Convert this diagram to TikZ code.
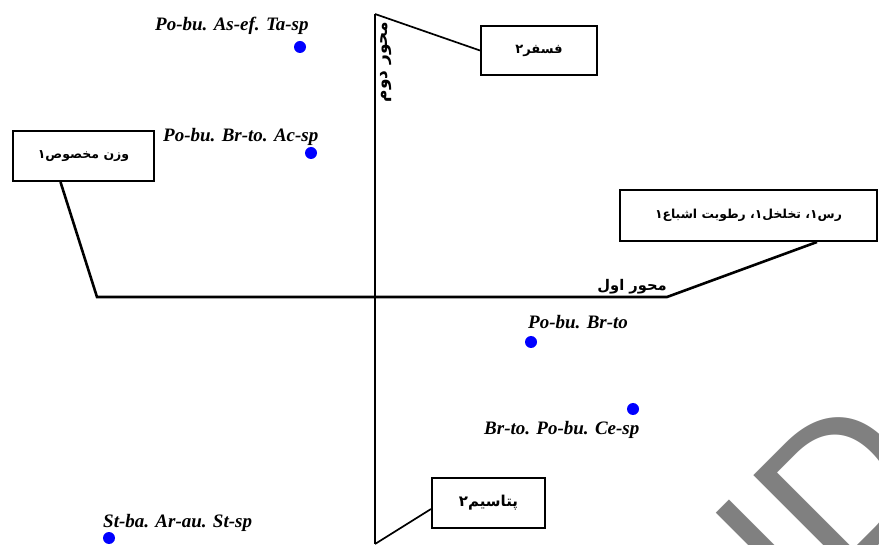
\documentclass[tikz,border=0pt]{standalone}
\usepackage{fontspec}
\setmainfont{Liberation Serif}
\newfontfamily\fa[Script=Arabic]{DejaVu Sans}
\newfontfamily\wm{Liberation Sans}
\TeXXeTstate=1
\usetikzlibrary{calc}
\definecolor{dotblue}{RGB}{0,0,255}
\definecolor{wmgray}{RGB}{128,128,128}
\newcommand{\fasize}[1]{\fa\bfseries\fontsize{#1}{#1}\selectfont}
\begin{document}
\begin{tikzpicture}[x=1pt,y=-1pt,
  varbox/.style={draw=black, line width=2pt, fill=white, inner sep=0pt, align=center},
  axis/.style={line width=2.6pt, black},
  conn/.style={line width=1.7pt, black},
  sp/.style={circle, fill=dotblue, inner sep=0pt, minimum size=12pt},
  splabel/.style={inner sep=0pt, anchor=base west, font=\bfseries\itshape\fontsize{19}{21}\selectfont},
  axlabel/.style={inner sep=0pt}]
\useasboundingbox (0,0) rectangle (879,545);
\clip (0,0) rectangle (879,545);
\fill[white] (0,0) rectangle (879,545);

% watermark
\node[text=wmgray, font=\wm\fontsize{200}{200}\selectfont, rotate=45, anchor=base west, inner sep=0pt] (wmark) at (706,718) {SID};

% axes
\coordinate (vtop) at (375,14);
\coordinate (vbot) at (375,544);
\coordinate (hL) at (97,297);
\coordinate (hR) at (667,297);

% boxes
\node[varbox, minimum width=116pt, minimum height=49pt, font=\fasize{13}] (fosfor) at (539,50.5) {\beginR فسفر۲\endR};
\node[varbox, minimum width=141pt, minimum height=50pt, font=\fasize{12.5}] (vazn) at (83.5,156) {\beginR وزن مخصوص۱\endR};
\node[varbox, minimum width=257pt, minimum height=51pt, font=\fasize{12.4}] (ros) at (748.5,215.5) {\beginR رس۱، تخلخل۱، رطوبت اشباع۱\endR};
\node[varbox, minimum width=113pt, minimum height=50pt, font=\fasize{15}] (potas) at (488.5,503) {\beginR پتاسیم۲\endR};

\draw[axis] (vtop) -- (vbot);
\draw[axis, line join=miter] ([xshift=-23pt]vazn.south) -- (hL) -- (hR) -- ([xshift=68.5pt]ros.south);
\draw[conn] (vtop) -- (fosfor.west);
\draw[conn] (vbot) -- ([yshift=-6pt]potas.west);

% axis labels
\node[axlabel, anchor=base east, font=\fasize{14.7}] (ax1) at (667,291) {\beginR محور اول\endR};
\node[axlabel, rotate=90, font=\fasize{17}] (ax2) at (386,62) {\beginR محور دوم\endR};

% species points
\node[sp] (d1) at (300,47) {};
\node[sp] (d2) at (311,153) {};
\node[sp] (d3) at (531,342) {};
\node[sp] (d4) at (633,409) {};
\node[sp] (d5) at (109,538) {};

\node[splabel] (l1) at (155,31) {Po-bu. As-ef. Ta-sp};
\node[splabel] (l2) at (163,142) {Po-bu. Br-to. Ac-sp};
\node[splabel] (l3) at (528,329) {Po-bu. Br-to};
\node[splabel] (l4) at (484,435) {Br-to. Po-bu. Ce-sp};
\node[splabel] (l5) at (103,527) {St-ba. Ar-au. St-sp};
\end{tikzpicture}
\end{document}
